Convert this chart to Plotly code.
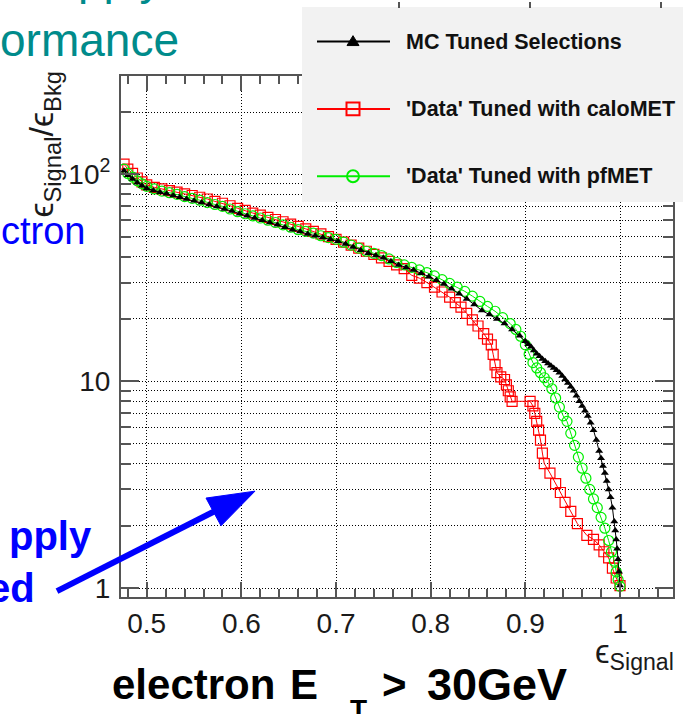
import plotly.graph_objects as go

# ---------------- data ----------------
mc_x = [0.476, 0.480, 0.485, 0.490, 0.495, 0.500, 0.507, 0.514, 0.521, 0.528, 0.535, 0.542,
        0.550, 0.558, 0.566, 0.574, 0.582, 0.590, 0.598, 0.606, 0.614, 0.622, 0.630, 0.638,
        0.646, 0.654, 0.662, 0.670, 0.678, 0.686, 0.694, 0.702, 0.710, 0.718, 0.726, 0.734,
        0.742, 0.750, 0.758, 0.766, 0.774, 0.782, 0.790, 0.798, 0.806, 0.814, 0.822, 0.830,
        0.838, 0.846, 0.854, 0.862, 0.870, 0.878, 0.886, 0.894,
        0.900, 0.903, 0.906, 0.909, 0.912, 0.915, 0.918, 0.921, 0.924, 0.927, 0.930, 0.933,
        0.936, 0.939, 0.942, 0.945, 0.948, 0.951, 0.954, 0.957, 0.960, 0.963, 0.966, 0.969,
        0.972, 0.975, 0.978, 0.980, 0.982, 0.984, 0.986, 0.988, 0.990, 0.992, 0.994, 0.995,
        0.996, 0.997, 0.998, 0.999, 1.000]
mc_y = [104, 99, 95, 91, 88, 85.5, 83.5, 82, 80.5, 79, 77.5, 76,
        74.5, 73, 71.5, 70, 68, 66.5, 64.5, 63, 61.5, 60, 58.5, 57,
        55.5, 54, 53, 51.5, 50.5, 49.5, 48.5, 47.5, 46, 44.5, 43, 41.5,
        40.5, 39.5, 38, 36.5, 35.5, 34.5, 33.3, 32, 30.8, 29.5, 28, 26.5,
        25, 23.5, 22, 21, 20, 19, 17.8, 16.6,
        15.6, 15.1, 14.7, 14.1, 13.6, 13.2, 12.8, 12.5, 12.2, 11.9, 11.6, 11.3,
        11.0, 10.6, 10.2, 9.8, 9.4, 9.0, 8.5, 8.0, 7.6, 7.2, 6.8, 6.3,
        5.8, 5.2, 4.6, 4.25, 3.9, 3.6, 3.3, 3.0, 2.75, 2.45, 2.1, 1.9,
        1.72, 1.55, 1.38, 1.2, 1.03]

pf_x = [0.476, 0.480, 0.485, 0.490, 0.495, 0.500, 0.508, 0.516, 0.524, 0.532, 0.540, 0.548,
        0.556, 0.564, 0.572, 0.580, 0.588, 0.596, 0.604, 0.612, 0.620, 0.628, 0.636, 0.644,
        0.652, 0.660, 0.668, 0.676, 0.684, 0.692, 0.700, 0.708, 0.716, 0.724, 0.732, 0.740,
        0.748, 0.756, 0.764, 0.772, 0.780, 0.788, 0.796, 0.804, 0.812, 0.820, 0.828, 0.836,
        0.844, 0.852, 0.860, 0.868, 0.876, 0.884, 0.890, 0.895, 0.900, 0.904, 0.908, 0.912,
        0.916, 0.920, 0.924, 0.928, 0.932, 0.936, 0.940, 0.944, 0.948, 0.952, 0.956, 0.960,
        0.964, 0.968, 0.972, 0.976, 0.980, 0.984, 0.988, 0.991, 0.994, 0.996, 0.998, 1.000]
pf_y = [106, 101, 97, 93, 90, 87.5, 85, 83, 81.5, 80, 78, 76.5,
        75, 73, 71.5, 70, 68, 66, 64.5, 63, 61.5, 60, 58.5, 57,
        55.5, 54, 53, 52, 50.5, 49.5, 48.5, 47, 45.5, 44, 42.5, 41.5,
        40.5, 39, 37.5, 36.5, 35.5, 34.5, 33.5, 32.3, 31, 29.7, 28.5, 27.2,
        25.8, 24.3, 23, 21.8, 20.3, 19, 17.8, 16.5, 15.0, 13.5, 12.3, 11.6,
        11.0, 10.4, 9.9, 9.2, 8.3, 7.5, 6.8, 6.4, 5.6, 4.9, 4.3, 3.8,
        3.4, 3.0, 2.7, 2.45, 2.2, 1.95, 1.7, 1.5, 1.35, 1.2, 1.1, 1.02]

calo_x = [0.476, 0.480, 0.485, 0.490, 0.495, 0.500, 0.508, 0.516, 0.524, 0.532, 0.540, 0.548,
          0.556, 0.564, 0.572, 0.580, 0.588, 0.596, 0.604, 0.612, 0.620, 0.628, 0.636, 0.644,
          0.652, 0.660, 0.668, 0.676, 0.684, 0.692, 0.700, 0.708, 0.716, 0.724, 0.732, 0.740,
          0.748, 0.756, 0.764, 0.772, 0.780, 0.788, 0.796, 0.804, 0.812, 0.820, 0.826, 0.832,
          0.838, 0.844, 0.850, 0.856, 0.860, 0.864, 0.866, 0.868, 0.870, 0.874, 0.878, 0.880,
          0.882, 0.884, 0.886, 0.905, 0.908, 0.910, 0.912, 0.914, 0.916, 0.918, 0.920, 0.926,
          0.932, 0.937, 0.942, 0.948, 0.955, 0.965, 0.972, 0.978, 0.983, 0.988, 0.992, 0.996, 1.000]
calo_y = [112, 106, 101, 96, 92, 89, 86.5, 85, 83.5, 82, 80.5, 79,
          77.5, 76, 74, 72.5, 70.5, 68.5, 67, 65, 63.5, 62, 60.5, 59,
          57.5, 56, 54.5, 53, 51.5, 50, 48.5, 47, 45.5, 44, 42.5, 41,
          39.5, 38, 36.5, 35, 32.5, 31.5, 30, 28.5, 27, 25.5, 24, 22.8,
          21.3, 19.8, 18.5, 17.0, 16.0, 15.0, 13.5, 12.0, 11.0, 10.5, 10.2, 9.6,
          9.0, 8.4, 8.0, 8.0, 7.6, 7.0, 6.4, 5.8, 5.2, 4.5, 4.0, 3.6,
          3.2, 2.9, 2.6, 2.35, 2.05, 1.8, 1.72, 1.62, 1.5, 1.4, 1.25, 1.12, 1.03]

series_names = ["MC Tuned Selections", "'Data' Tuned with caloMET", "'Data' Tuned with pfMET"]
x_tick_vals = [0.5, 0.6, 0.7, 0.8, 0.9, 1.0]
x_tick_text = ["0.5", "0.6", "0.7", "0.8", "0.9", "1"]
y_tick_vals = [1, 10, 100]
y_tick_text = ["1", "10", "10<sup>2</sup>"]
y_minor_vals = [2, 3, 4, 5, 6, 7, 8, 9, 20, 30, 40, 50, 60, 70, 80, 90, 200, 300]
x_minor_vals = [round(0.48 + 0.02 * i, 2) for i in range(30)]

# ---------------- helpers (pixel -> paper) ----------------
W, H = 683, 714
def PX(x):
    return x / W
def PY(y):
    return 1 - y / H

FONT = "Liberation Sans, Arial, Helvetica, sans-serif"
FRAME = "#555555"

fig = go.Figure()
fig.add_trace(go.Scatter(x=calo_x, y=calo_y, mode="lines+markers", name=series_names[1],
                         line=dict(color="#ff0000", width=1),
                         marker=dict(symbol="square-open", size=10, color="#ff0000",
                                     line=dict(width=1.2, color="#ff0000"))))
fig.add_trace(go.Scatter(x=pf_x, y=pf_y, mode="lines+markers", name=series_names[2],
                         line=dict(color="#00ee00", width=1),
                         marker=dict(symbol="circle-open", size=10, color="#00ee00",
                                     line=dict(width=1.2, color="#00ee00"))))
fig.add_trace(go.Scatter(x=mc_x, y=mc_y, mode="lines+markers", name=series_names[0],
                         line=dict(color="#000000", width=1),
                         marker=dict(symbol="triangle-up", size=7, color="#000000")))

fig.update_layout(
    width=W, height=H, margin=dict(l=0, r=0, t=0, b=0),
    paper_bgcolor="white", plot_bgcolor="white", showlegend=False,
    font=dict(family=FONT, color="#1a1a1a"),
    xaxis=dict(domain=[PX(121), PX(673)], range=[0.4728, 1.056],
               tickvals=x_tick_vals, ticktext=x_tick_text, tickfont=dict(size=28, color="#1a1a1a"),
               ticks="inside", ticklen=15, tickwidth=1.5, tickcolor=FRAME,
               showline=True, linecolor=FRAME, linewidth=2, mirror="ticks",
               showgrid=True, gridcolor="black", gridwidth=1, griddash="1px,2px",
               minor=dict(tickvals=x_minor_vals, ticks="inside", ticklen=8, tickwidth=1.5,
                          tickcolor=FRAME, showgrid=False),
               zeroline=False, ticklabelstandoff=0),
    yaxis=dict(domain=[PY(603), PY(77)], type="log", range=[-0.043, 2.474],
               tickvals=y_tick_vals, ticktext=y_tick_text, tickfont=dict(size=28, color="#1a1a1a"),
               ticks="inside", ticklen=18, tickwidth=1.5, tickcolor=FRAME,
               showline=True, linecolor=FRAME, linewidth=2, mirror="ticks",
               showgrid=True, gridcolor="black", gridwidth=1, griddash="1px,2px",
               minor=dict(tickvals=y_minor_vals, ticks="inside", ticklen=10, tickwidth=1.5,
                          tickcolor=FRAME, showgrid=True, gridcolor="black", gridwidth=1,
                          griddash="1px,2px"),
               zeroline=False, ticklabelstandoff=3),
)

shapes = []
# legend box (overlaps the top-right of the frame)
shapes.append(dict(type="rect", xref="paper", yref="paper", x0=PX(302), x1=PX(690),
                   y0=PY(204), y1=PY(7), fillcolor="#f2f2f2", line=dict(width=0), layer="above"))
leg_y = [42, 110, 178]
leg_col = ["#000000", "#ff0000", "#00ee00"]
for yy, cc in zip(leg_y, leg_col):
    shapes.append(dict(type="line", xref="paper", yref="paper", x0=PX(317), x1=PX(390),
                       y0=PY(yy), y1=PY(yy), line=dict(color=cc, width=2), layer="above"))
# legend glyphs
shapes.append(dict(type="path", xref="paper", yref="paper", layer="above",
                   path=f"M {PX(347)},{PY(46)} L {PX(359)},{PY(46)} L {PX(353)},{PY(36)} Z",
                   fillcolor="black", line=dict(color="black", width=1)))
shapes.append(dict(type="rect", xref="paper", yref="paper", layer="above",
                   x0=PX(346.5), x1=PX(359.5), y0=PY(116.5), y1=PY(103.5),
                   fillcolor="rgba(0,0,0,0)", line=dict(color="#ff0000", width=2)))
shapes.append(dict(type="circle", xref="paper", yref="paper", layer="above",
                   x0=PX(347), x1=PX(359), y0=PY(184), y1=PY(172),
                   fillcolor="rgba(0,0,0,0)", line=dict(color="#00ee00", width=2)))
# stray tick marks at the very top of the slide
for tx in [399, 530, 661]:
    shapes.append(dict(type="line", xref="paper", yref="paper", x0=PX(tx), x1=PX(tx),
                       y0=PY(2), y1=PY(8), line=dict(color=FRAME, width=2), layer="above"))
# blue arrow: shaft + head
shapes.append(dict(type="line", xref="paper", yref="paper", x0=PX(57), y0=PY(597),
                   x1=PX(217), y1=PY(515), line=dict(color="#0000ff", width=6), layer="above"))
shapes.append(dict(type="path", xref="paper", yref="paper", layer="above",
                   path=f"M {PX(255)},{PY(496)} L {PX(206)},{PY(503)} L {PX(221)},{PY(531)} Z",
                   fillcolor="#0000ff", line=dict(color="#0000ff", width=1)))
fig.update_layout(shapes=shapes)

ann = []
def A(text, x, y, size, color="#1a1a1a", xanchor="left", bold=False, angle=0):
    t = f"<b>{text}</b>" if bold else text
    ann.append(dict(text=t, x=PX(x), y=PY(y), xref="paper", yref="paper", showarrow=False,
                    xanchor=xanchor, yanchor="middle", textangle=angle,
                    font=dict(size=size, color=color, family=FONT)))

for nm, yy in zip(series_names, leg_y):
    A(nm, 404, yy, 21.5, color="#111111", bold=True)

A("ϵ<sub>Signal</sub>/ϵ<sub>Bkg</sub>", 44, 146, 34, xanchor="center", angle=-90)
A("ϵ<sub>Signal</sub>", 676, 660, 33, xanchor="right")

TEAL = "#008b8b"
A("pply", 76, -22, 46, color=TEAL)
A("ormance", -2, 40, 46, color=TEAL)
A("ctron", -1, 233, 38, color="#0000ff")
A("pply", 94, 541, 40, color="#0000ff", xanchor="right", bold=True)
A("ed", 37, 594, 40, color="#0000ff", xanchor="right", bold=True)

# big bold subtitle, pieces placed as on the slide
A("electron", 110, 691, 42, color="#000000", bold=True)
A("E", 288, 691, 42, color="#000000", bold=True)
A("T", 348, 717, 28, color="#000000", bold=True)
A("&gt;", 380, 691, 42, color="#000000", bold=True)
A("30GeV", 425, 691, 45, color="#000000", bold=True)

fig.update_layout(annotations=ann)
fig.write_html("out.html")
